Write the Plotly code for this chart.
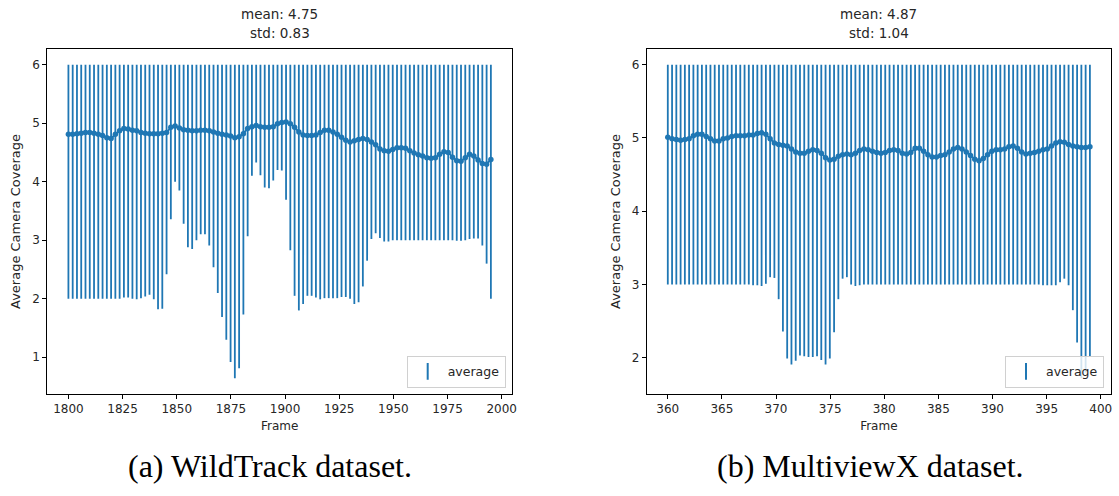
import numpy as np
import plotly.graph_objects as go

# ---------------- data ----------------
n_frames = 100
wt_frames = np.linspace(1800, 1995, n_frames)
mx_frames = np.linspace(360, 399, n_frames)
coverage_max = 6

wt_mean = [4.81, 4.81, 4.82, 4.83, 4.84, 4.84, 4.83, 4.81, 4.79, 4.75,
           4.74, 4.81, 4.87, 4.91, 4.90, 4.88, 4.87, 4.84, 4.83, 4.82,
           4.82, 4.82, 4.83, 4.84, 4.93, 4.95, 4.92, 4.89, 4.88, 4.87,
           4.87, 4.88, 4.88, 4.87, 4.85, 4.83, 4.81, 4.80, 4.78, 4.75,
           4.77, 4.82, 4.91, 4.94, 4.96, 4.94, 4.93, 4.93, 4.94, 4.99,
           5.01, 5.02, 4.99, 4.93, 4.85, 4.80, 4.79, 4.79, 4.80, 4.84,
           4.88, 4.88, 4.85, 4.81, 4.76, 4.71, 4.68, 4.70, 4.72, 4.74,
           4.72, 4.68, 4.63, 4.56, 4.53, 4.52, 4.55, 4.58, 4.58, 4.57,
           4.53, 4.49, 4.46, 4.44, 4.41, 4.40, 4.41, 4.47, 4.51, 4.50,
           4.42, 4.36, 4.35, 4.41, 4.47, 4.44, 4.37, 4.31, 4.30, 4.38]
wt_min = [2.00, 2.00, 2.00, 2.00, 2.00, 2.00, 2.00, 2.00, 2.00, 2.00,
          2.00, 2.00, 2.00, 2.02, 2.02, 2.00, 1.99, 2.01, 2.04, 2.07,
          1.99, 1.82, 1.83, 2.42, 3.36, 4.00, 3.85, 3.28, 2.88, 2.85,
          3.00, 3.10, 3.10, 2.91, 2.54, 2.10, 1.69, 1.30, 0.92, 0.64,
          0.81, 1.73, 3.07, 4.10, 4.33, 4.11, 3.90, 3.89, 4.02, 4.20,
          4.19, 3.69, 2.83, 2.05, 1.80, 1.91, 2.05, 2.05, 2.02, 1.99,
          2.01, 2.01, 2.01, 2.01, 2.03, 2.03, 2.00, 1.91, 1.94, 2.21,
          2.65, 3.02, 3.12, 3.04, 2.98, 2.98, 3.00, 3.00, 3.00, 3.00,
          3.00, 3.00, 3.00, 3.00, 3.00, 3.00, 3.00, 3.00, 3.00, 3.00,
          3.00, 2.99, 2.99, 3.00, 3.02, 3.03, 3.03, 2.91, 2.60, 2.00]

mx_mean = [5.01, 4.99, 4.98, 4.97, 4.98, 4.99, 5.03, 5.05, 5.05, 5.02,
           4.99, 4.96, 4.96, 4.99, 5.00, 5.02, 5.03, 5.03, 5.03, 5.04,
           5.04, 5.06, 5.07, 5.05, 4.99, 4.93, 4.91, 4.90, 4.89, 4.85,
           4.81, 4.79, 4.79, 4.82, 4.84, 4.83, 4.79, 4.73, 4.70, 4.71,
           4.75, 4.77, 4.78, 4.77, 4.79, 4.83, 4.85, 4.84, 4.82, 4.80,
           4.79, 4.80, 4.83, 4.84, 4.83, 4.79, 4.78, 4.80, 4.86, 4.86,
           4.82, 4.77, 4.74, 4.74, 4.76, 4.77, 4.81, 4.85, 4.87, 4.85,
           4.81, 4.76, 4.71, 4.69, 4.72, 4.77, 4.82, 4.84, 4.84, 4.85,
           4.88, 4.89, 4.86, 4.81, 4.78, 4.79, 4.80, 4.82, 4.84, 4.85,
           4.89, 4.93, 4.95, 4.94, 4.91, 4.89, 4.88, 4.87, 4.87, 4.88]
mx_min = [3.00, 3.00, 3.00, 3.00, 3.00, 3.00, 3.00, 3.00, 3.00, 3.00,
          3.00, 3.00, 3.00, 3.00, 3.00, 3.00, 3.00, 3.00, 3.00, 3.00,
          2.99, 2.99, 2.98, 3.01, 3.10, 3.09, 2.80, 2.36, 1.99, 1.91,
          1.96, 2.03, 2.02, 2.01, 2.01, 2.02, 1.97, 1.91, 1.99, 2.35,
          2.80, 3.08, 3.10, 3.00, 2.98, 2.99, 3.00, 3.00, 3.00, 3.00,
          3.00, 3.00, 3.00, 3.00, 3.00, 3.00, 3.00, 3.00, 3.00, 3.00,
          3.00, 3.00, 3.00, 3.00, 3.00, 3.00, 3.00, 3.00, 3.00, 3.00,
          3.00, 3.00, 3.00, 3.00, 3.00, 3.00, 3.00, 3.00, 3.00, 3.00,
          3.00, 3.00, 3.00, 3.00, 3.00, 3.00, 3.00, 3.00, 2.99, 2.99,
          2.99, 2.99, 3.03, 3.08, 2.99, 2.65, 2.21, 1.72, 1.80, 2.01]

wt_ticks = [1800, 1825, 1850, 1875, 1900, 1925, 1950, 1975, 2000]
mx_ticks = [360, 365, 370, 375, 380, 385, 390, 395, 400]
wt_yticks = [1, 2, 3, 4, 5, 6]
mx_yticks = [2, 3, 4, 5, 6]

panels = [
    dict(frames=wt_frames, mean=wt_mean, low=wt_min, stats=("4.75", "0.83"),
         caption="(a) WildTrack dataset.", xticks=wt_ticks, yticks=wt_yticks,
         xrange=[1790.25, 2004.75], yrange=[0.372, 6.268], legend="legend"),
    dict(frames=mx_frames, mean=mx_mean, low=mx_min, stats=("4.87", "1.04"),
         caption="(b) MultiviewX dataset.", xticks=mx_ticks, yticks=mx_yticks,
         xrange=[358.05, 400.95], yrange=[1.506, 6.214], legend="legend2"),
]

# ---------------- layout geometry (pixels) ----------------
W, H = 1119, 496
BLUE = "#1f77b4"
FONT = "DejaVu Sans"
TXT = "#262626"
x_doms = [(47.3, 512.0), (646.7, 1111.0)]
y_top, y_bot = 49.0, 394.0

fig = go.Figure()
annotations = []
for k, p in enumerate(panels):
    sfx = "" if k == 0 else "2"
    mean = np.array(p["mean"])
    low = np.array(p["low"])
    fig.add_trace(go.Scatter(
        x=p["frames"], y=mean, mode="lines+markers",
        line=dict(color=BLUE, width=2),
        marker=dict(color=BLUE, size=5.5),
        error_y=dict(type="data", symmetric=False,
                     array=coverage_max - mean, arrayminus=mean - low,
                     color=BLUE, thickness=1.8, width=0),
        xaxis="x" + sfx, yaxis="y" + sfx, showlegend=False, name="average",
    ))
    # legend entry (vertical errorbar glyph)
    fig.add_trace(go.Scatter(
        x=[None], y=[None], mode="markers", name="average",
        marker=dict(symbol="line-ns-open", size=12, color=BLUE,
                    line=dict(color=BLUE, width=2)),
        xaxis="x" + sfx, yaxis="y" + sfx, legend=p["legend"],
    ))
    x0, x1 = x_doms[k]
    axis_common = dict(showline=True, mirror=True, linecolor="black", linewidth=1,
                       ticks="outside", ticklen=4, tickwidth=1, tickcolor="black",
                       showgrid=False, zeroline=False, automargin=False,
                       tickfont=dict(family=FONT, size=12, color=TXT))
    fig.layout["xaxis" + sfx] = dict(
        domain=[x0 / W, x1 / W], range=p["xrange"], tickvals=p["xticks"],
        anchor="y" + sfx,
        title=dict(text="Frame", font=dict(family=FONT, size=12, color=TXT), standoff=6),
        **axis_common)
    fig.layout["yaxis" + sfx] = dict(
        domain=[1 - y_bot / H, 1 - y_top / H], range=p["yrange"], tickvals=p["yticks"],
        anchor="x" + sfx,
        title=dict(text="Average Camera Coverage",
                   font=dict(family=FONT, size=13, color=TXT), standoff=8),
        **axis_common)
    cx = (x0 + x1) / 2 / W
    annotations.append(dict(text="mean: " + p["stats"][0], x=cx, y=1 - 14 / H,
                            xref="paper", yref="paper", showarrow=False,
                            xanchor="center", yanchor="middle",
                            font=dict(family=FONT, size=13.5, color=TXT)))
    annotations.append(dict(text="std: " + p["stats"][1], x=cx, y=1 - 33 / H,
                            xref="paper", yref="paper", showarrow=False,
                            xanchor="center", yanchor="middle",
                            font=dict(family=FONT, size=13.5, color=TXT)))
    cap_x = [270, 870][k]
    annotations.append(dict(text=p["caption"], x=cap_x / W, y=1 - 466 / H,
                            xref="paper", yref="paper", showarrow=False,
                            xanchor="center", yanchor="middle",
                            font=dict(family="Liberation Serif", size=32, color="black")))

legend_common = dict(bgcolor="rgba(255,255,255,0.8)", bordercolor="#d0d0d0", borderwidth=1,
                     font=dict(family=FONT, size=12.5, color=TXT),
                     xanchor="right", yanchor="bottom", xref="paper", yref="paper")
fig.update_layout(
    width=W, height=H, margin=dict(l=0, r=0, t=0, b=0, autoexpand=False),
    paper_bgcolor="white", plot_bgcolor="white",
    annotations=annotations,
    legend=dict(x=505.7 / W, y=1 - 387.7 / H, **legend_common),
    legend2=dict(x=1104 / W, y=1 - 387.7 / H, **legend_common),
)
fig.write_html("out.html")
